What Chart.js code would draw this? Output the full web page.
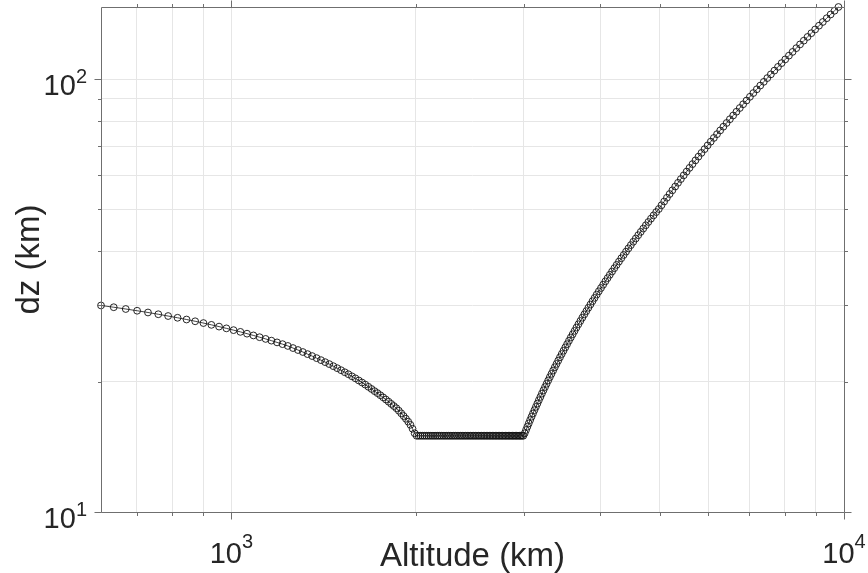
<!DOCTYPE html>
<html><head><meta charset="utf-8">
<script src="https://cdn.jsdelivr.net/npm/chart.js@4"></script>
<style>html,body{margin:0;padding:0;background:#fff;}#wrap{width:868px;height:573px;}</style>
</head><body><div id="wrap"><canvas id="c" width="868" height="573"></canvas></div>
<script>
// ---- data ----
const altitudeLower = [612.5,642.5,672.2,701.6,730.8,759.7,788.3,816.7,844.8,872.6,900.2,927.5,954.6,981.4,1008.0,1034.3,1060.4,1086.2,1111.8,1137.1,1162.2,1187.1,1211.8,1236.2,1260.4,1284.3,1308.0,1331.4,1354.6,1377.5,1400.2,1422.6,1444.8,1466.8,1488.5,1510.0,1531.3,1552.3,1573.1,1593.7,1614.1,1634.2,1654.1,1673.8,1693.3,1712.5,1731.5,1750.3,1768.9,1787.3,1805.5,1823.5,1841.3,1858.9,1876.3,1893.4,1910.3,1927.0,1943.4,1959.6,1975.5,1991.1];
const dzLower = [30.00,29.72,29.44,29.17,28.90,28.63,28.36,28.10,27.84,27.58,27.32,27.06,26.81,26.56,26.31,26.07,25.82,25.58,25.34,25.11,24.88,24.65,24.42,24.19,23.92,23.67,23.42,23.16,22.92,22.67,22.43,22.19,21.96,21.72,21.49,21.26,21.03,20.81,20.58,20.36,20.13,19.91,19.69,19.46,19.24,19.02,18.82,18.61,18.40,18.19,17.98,17.77,17.57,17.37,17.14,16.90,16.66,16.42,16.17,15.90,15.57,15.20];
const altitudePlateau = [2006.3,2021.3,2036.3,2051.3,2066.3,2081.3,2096.3,2111.3,2126.3,2141.3,2156.3,2171.3,2186.3,2201.3,2216.3,2231.3,2246.3,2261.3,2276.3,2291.3,2306.3,2321.3,2336.3,2351.3,2366.3,2381.3,2396.3,2411.3,2426.3,2441.3,2456.3,2471.3,2486.3,2501.3,2516.3,2531.3,2546.3,2561.3,2576.3,2591.3,2606.3,2621.3,2636.3,2651.3,2666.3,2681.3,2696.3,2711.3,2726.3,2741.3,2756.3,2771.3,2786.3,2801.3,2816.3,2831.3,2846.3,2861.3,2876.3,2891.3,2906.3,2921.3,2936.3,2951.3,2966.3,2981.3,2996.3];
const dzPlateau = [15,15,15,15,15,15,15,15,15,15,15,15,15,15,15,15,15,15,15,15,15,15,15,15,15,15,15,15,15,15,15,15,15,15,15,15,15,15,15,15,15,15,15,15,15,15,15,15,15,15,15,15,15,15,15,15,15,15,15,15,15,15,15,15,15,15,15];
const altitudeUpper = [3011.3,3026.5,3042.0,3057.7,3073.7,3090.0,3106.6,3123.5,3140.7,3158.2,3176.0,3194.1,3212.5,3231.3,3250.4,3269.8,3289.6,3309.7,3330.2,3351.1,3372.3,3393.9,3415.9,3438.3,3461.1,3484.3,3507.8,3531.8,3556.2,3581.1,3606.4,3632.1,3658.3,3685.0,3712.1,3739.8,3767.9,3796.5,3825.6,3855.2,3885.4,3916.1,3947.3,3979.1,4011.5,4044.4,4077.9,4112.0,4146.7,4182.0,4218.0,4254.5,4291.8,4329.7,4368.2,4407.5,4447.4,4488.1,4529.4,4571.5,4614.4,4658.0,4702.3,4747.5,4793.5,4840.2,4887.8,4936.3,4985.6,5035.7,5086.8,5139.0,5192.2,5246.4,5301.8,5358.3,5415.9,5474.6,5534.6,5595.7,5658.1,5721.7,5786.6,5852.8,5920.4,5989.3,6059.6,6131.3,6204.4,6279.0,6355.1,6432.8,6512.0,6592.8,6675.2,6759.2,6845.0,6932.5,7021.7,7112.7,7205.6,7300.3,7397.0,7495.5,7596.1,7698.6,7803.3,7910.0,8018.9,8130.0,8243.3,8358.8,8476.7,8597.0,8719.7,8844.9,8972.5,9102.8,9235.6,9371.2,9509.4,9650.5,9794.3];
const dzUpper = [15.20,15.47,15.74,16.02,16.31,16.60,16.89,17.19,17.49,17.80,18.12,18.44,18.77,19.10,19.44,19.78,20.13,20.49,20.85,21.22,21.60,21.98,22.37,22.77,23.17,23.58,24.00,24.42,24.86,25.30,25.74,26.20,26.67,27.14,27.62,28.11,28.61,29.11,29.63,30.15,30.69,31.23,31.79,32.35,32.92,33.50,34.10,34.70,35.32,35.94,36.58,37.23,37.89,38.56,39.24,39.94,40.64,41.36,42.10,42.84,43.60,44.37,45.16,45.96,46.77,47.60,48.44,49.30,50.11,51.12,52.15,53.20,54.27,55.36,56.47,57.60,58.76,59.94,61.15,62.37,63.63,64.91,66.21,67.54,68.90,70.28,71.70,73.14,74.61,76.11,77.64,79.20,80.79,82.41,84.07,85.76,87.48,89.24,91.03,92.86,94.73,96.63,98.57,100.55,102.57,104.63,106.74,108.88,111.07,113.30,115.58,117.90,120.27,122.69,125.16,127.67,130.24,132.86,135.53,138.25,141.03,143.86,146.76];

const xTickValues = [700,800,900,1000,2000,3000,4000,5000,6000,7000,8000,9000,10000];
const yTickValues = [10,20,30,40,50,60,70,80,90,100];
const xLabelValues = [1000,10000];
const xLabelExponents = ['3','4'];
const yLabelValues = [10,100];
const yLabelExponents = ['1','2'];
const xTitle = 'Altitude (km)';
const yTitle = 'dz (km)';
const xRange = [612.5, 10000];
const yRange = [10, 146.76];

// ---- styling ----
const FONT = '"Liberation Sans", Arial, Helvetica, sans-serif';
const textColor = '#262626';
const axisColor = '#6f6f6f';
const gridColor = '#e6e6e6';

const altitudes = altitudeLower.concat(altitudePlateau, altitudeUpper);
const dzs = dzLower.concat(dzPlateau, dzUpper);
const points = altitudes.map((a, i) => ({x: a, y: dzs[i]}));

const decor = {
  id: 'decor',
  afterDraw(chart) {
    const {ctx, chartArea: a, scales} = chart;
    const xs = scales.x, ys = scales.y;
    const L = Math.round(a.left) + 0.5, R = Math.round(a.right) + 0.5;
    const T = Math.round(a.top) + 0.5, B = Math.round(a.bottom) + 0.5;
    ctx.save();
    ctx.strokeStyle = axisColor;
    ctx.lineWidth = 1;
    ctx.beginPath();
    ctx.moveTo(L, T); ctx.lineTo(R, T); ctx.lineTo(R, B); ctx.lineTo(L, B); ctx.closePath();
    xTickValues.forEach(v => {
      const px = Math.round(xs.getPixelForValue(v)) + 0.5;
      const len = xLabelValues.includes(v) ? 7 : 3.5;
      ctx.moveTo(px, B); ctx.lineTo(px, B + len);
      ctx.moveTo(px, T); ctx.lineTo(px, T - len);
    });
    yTickValues.forEach(v => {
      const py = Math.round(ys.getPixelForValue(v)) + 0.5;
      const len = yLabelValues.includes(v) ? 7 : 3.5;
      ctx.moveTo(L, py); ctx.lineTo(L - len, py);
      ctx.moveTo(R, py); ctx.lineTo(R + len, py);
    });
    ctx.stroke();

    ctx.fillStyle = textColor;
    ctx.textBaseline = 'alphabetic';
    ctx.textAlign = 'left';
    const baseFont = '29px ' + FONT, supFont = '20px ' + FONT;
    function widths(exp) {
      ctx.font = baseFont; const wb = ctx.measureText('10').width;
      ctx.font = supFont; const we = ctx.measureText(exp).width;
      return [wb, we];
    }
    xLabelValues.forEach((v, i) => {
      const e = xLabelExponents[i];
      const [wb, we] = widths(e);
      const cx = xs.getPixelForValue(v);
      const x0 = cx - (wb + we) / 2;
      ctx.font = baseFont; ctx.fillText('10', x0, 563);
      ctx.font = supFont; ctx.fillText(e, x0 + wb, 548);
    });
    yLabelValues.forEach((v, i) => {
      const e = yLabelExponents[i];
      const [wb, we] = widths(e);
      const cy = ys.getPixelForValue(v);
      const x0 = 87 - (wb + we);
      ctx.font = baseFont; ctx.fillText('10', x0, cy + 16);
      ctx.font = supFont; ctx.fillText(e, x0 + wb, cy + 3.5);
    });

    ctx.font = '33px ' + FONT;
    ctx.textAlign = 'center';
    ctx.fillText(xTitle, (a.left + a.right) / 2, 566);
    ctx.save();
    ctx.translate(38.5, (a.top + a.bottom) / 2);
    ctx.rotate(-Math.PI / 2);
    ctx.fillText(yTitle, 0, 0);
    ctx.restore();
    ctx.restore();
  }
};

new Chart(document.getElementById('c'), {
  type: 'scatter',
  data: {
    datasets: [{
      data: points,
      showLine: true,
      borderColor: '#111',
      borderWidth: 0.8,
      pointRadius: 3.4,
      pointBorderWidth: 0.9,
      pointBorderColor: '#111',
      pointBackgroundColor: 'rgba(0,0,0,0)',
      pointHoverRadius: 3.4,
      fill: false,
      tension: 0,
      clip: false
    }]
  },
  options: {
    responsive: false,
    animation: false,
    devicePixelRatio: 1,
    layout: {padding: {left: 101, right: 24, top: 7, bottom: 61}},
    plugins: {legend: {display: false}, tooltip: {enabled: false}},
    scales: {
      x: {
        type: 'logarithmic', min: xRange[0], max: xRange[1], bounds: 'data',
        afterBuildTicks: s => { s.ticks = xTickValues.map(v => ({value: v})); },
        ticks: {display: false},
        grid: {color: gridColor, lineWidth: 1, drawTicks: false},
        border: {display: false}
      },
      y: {
        type: 'logarithmic', min: yRange[0], max: yRange[1], bounds: 'data',
        afterBuildTicks: s => { s.ticks = yTickValues.map(v => ({value: v})); },
        ticks: {display: false},
        grid: {color: gridColor, lineWidth: 1, drawTicks: false},
        border: {display: false}
      }
    }
  },
  plugins: [decor]
});
</script>
</body></html>
